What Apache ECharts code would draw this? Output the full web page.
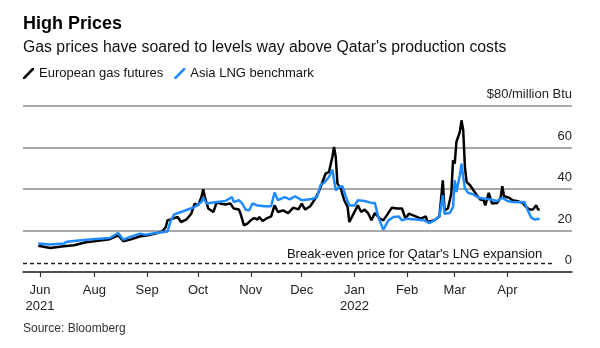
<!DOCTYPE html>
<html>
<head>
<meta charset="utf-8">
<script src="https://cdn.jsdelivr.net/npm/echarts@6/dist/echarts.min.js"></script>
<style>
html,body{margin:0;padding:0;background:#fff;}
#chart{width:600px;height:348px;}
</style>
</head>
<body>
<div id="chart"></div>
<script>
// ---- Data ($/million Btu) ----
const euroDates = ['2021-06-29','2021-07-06','2021-07-14','2021-07-20','2021-07-27','2021-08-02','2021-08-10','2021-08-15','2021-08-18','2021-08-22','2021-08-28','2021-08-31','2021-09-06','2021-09-10','2021-09-12','2021-09-13','2021-09-16','2021-09-19','2021-09-21','2021-09-24','2021-09-27','2021-09-29','2021-10-01','2021-10-03','2021-10-04','2021-10-05','2021-10-07','2021-10-10','2021-10-12','2021-10-14','2021-10-17','2021-10-20','2021-10-22','2021-10-25','2021-10-26','2021-10-28','2021-10-30','2021-11-01','2021-11-03','2021-11-05','2021-11-06','2021-11-08','2021-11-10','2021-11-13','2021-11-15','2021-11-17','2021-11-20','2021-11-23','2021-11-26','2021-11-29','2021-12-01','2021-12-03','2021-12-06','2021-12-09','2021-12-11','2021-12-13','2021-12-15','2021-12-17','2021-12-19','2021-12-20','2021-12-21','2021-12-22','2021-12-24','2021-12-26','2021-12-28','2021-12-29','2021-12-31','2022-01-03','2022-01-05','2022-01-07','2022-01-09','2022-01-11','2022-01-13','2022-01-16','2022-01-18','2022-01-20','2022-01-23','2022-01-26','2022-01-29','2022-01-31','2022-02-02','2022-02-06','2022-02-09','2022-02-12','2022-02-13','2022-02-17','2022-02-20','2022-02-22','2022-02-23','2022-02-25','2022-02-27','2022-02-28','2022-03-01','2022-03-02','2022-03-04','2022-03-05','2022-03-06','2022-03-07','2022-03-08','2022-03-10','2022-03-12','2022-03-14','2022-03-16','2022-03-18','2022-03-19','2022-03-21','2022-03-23','2022-03-26','2022-03-28','2022-03-29','2022-03-30','2022-04-02','2022-04-04','2022-04-07','2022-04-10','2022-04-12','2022-04-14','2022-04-16','2022-04-18','2022-04-19','2022-04-20'];
const euroValues = [12.7,11.6,12.4,12.9,14.3,14.9,15.8,17.7,14.8,15.6,17.2,17.5,18.5,19.6,21.7,24.9,25.7,26.5,24.1,25.2,28.1,33.0,32.1,36.1,39.9,36.1,30.6,28.9,33.7,33.0,32.5,33.0,30.6,30.1,28.1,22.5,23.3,24.9,26.0,25.3,26.5,24.6,25.7,26.8,32.1,28.9,29.7,28.4,31.0,30.2,33.0,30.1,31.7,35.4,38.6,42.9,47.4,48.2,55.4,60.2,55.4,42.6,40.2,34.6,31.3,24.1,27.3,32.1,28.9,30.1,28.4,24.9,28.4,25.7,24.9,27.3,31.0,30.6,30.6,25.7,28.1,26.8,25.7,26.8,24.1,24.9,26.8,44.2,29.7,30.6,37.8,53.8,52.2,62.7,67.5,73.1,68.3,50.6,43.4,41.8,39.4,37.0,34.9,34.6,32.1,38.1,33.0,33.3,35.8,41.3,36.5,35.8,34.6,34.1,33.3,31.3,30.1,30.1,32.1,30.1,30.1];

const asiaDates = ['2021-06-29','2021-07-06','2021-07-14','2021-07-16','2021-07-24','2021-08-02','2021-08-10','2021-08-15','2021-08-18','2021-08-22','2021-08-28','2021-08-31','2021-09-06','2021-09-13','2021-09-15','2021-09-17','2021-09-21','2021-09-25','2021-09-29','2021-10-03','2021-10-04','2021-10-06','2021-10-11','2021-10-17','2021-10-21','2021-10-22','2021-10-25','2021-10-27','2021-10-29','2021-10-31','2021-11-02','2021-11-05','2021-11-09','2021-11-13','2021-11-15','2021-11-17','2021-11-21','2021-11-24','2021-11-27','2021-12-01','2021-12-07','2021-12-10','2021-12-12','2021-12-14','2021-12-17','2021-12-19','2021-12-21','2021-12-23','2021-12-25','2021-12-27','2021-12-29','2022-01-01','2022-01-03','2022-01-07','2022-01-11','2022-01-13','2022-01-15','2022-01-18','2022-01-21','2022-01-24','2022-01-27','2022-01-29','2022-02-01','2022-02-06','2022-02-11','2022-02-14','2022-02-17','2022-02-20','2022-02-22','2022-02-23','2022-02-26','2022-02-28','2022-03-01','2022-03-02','2022-03-04','2022-03-05','2022-03-06','2022-03-07','2022-03-09','2022-03-12','2022-03-15','2022-03-18','2022-03-22','2022-03-26','2022-03-29','2022-04-01','2022-04-04','2022-04-08','2022-04-11','2022-04-13','2022-04-15','2022-04-17','2022-04-20'];
const asiaValues = [13.7,13.2,13.7,14.6,15.3,15.9,16.4,18.8,15.6,16.9,18.5,18.0,18.8,19.5,24.9,27.8,28.9,30.1,31.3,33.7,35.8,33.0,33.6,34.2,36.1,33.7,34.6,33.0,30.0,29.7,33.0,32.0,31.7,31.7,38.3,34.6,36.1,35.0,36.5,34.6,35.2,36.1,41.8,42.9,45.8,49.3,39.4,41.0,41.3,36.1,32.1,32.1,34.6,34.2,33.3,33.3,26.5,20.4,24.9,26.5,26.8,24.9,25.7,25.3,24.9,23.6,24.9,26.8,37.0,28.1,28.4,31.3,44.2,38.6,46.6,52.2,45.8,40.2,38.1,37.4,35.8,35.4,34.9,34.2,35.8,34.2,33.7,33.6,33.7,29.7,26.2,25.3,25.7];

const seriesNames = ['European gas futures', 'Asia LNG benchmark'];
const breakEven = 4.3;
const breakEvenSpan = ['2021-06-20', '2022-04-28'];
const breakEvenLabel = "Break-even price for Qatar's LNG expansion";

const xRange = ['2021-06-20', '2022-05-09'];
const tickDates = ['2021-06-30','2021-08-01','2021-09-01','2021-10-01','2021-11-01','2021-12-01','2022-01-01','2022-02-01','2022-03-01','2022-04-01'];
const tickLabels = ['Jun\n2021','Aug','Sep','Oct','Nov','Dec','Jan\n2022','Feb','Mar','Apr'];

const yTicks = [0, 20, 40, 60, 80];
const yTopLabel = '$80/million Btu';

const titleText = 'High Prices';
const subtitleText = "Gas prices have soared to levels way above Qatar's production costs";
const sourceText = 'Source: Bloomberg';

// ---- Chart ----
const FONT = '"Liberation Sans", Arial, sans-serif';
const T = s => Date.parse(s + 'T00:00:00Z');
const tickTimes = tickDates.map(T);

const chart = echarts.init(document.getElementById('chart'), null, {renderer: 'canvas'});
const slash = 'path://M0,10 L1.8,10 L10,1.6 L10,0 L8.2,0 L0,8.4 Z';

chart.setOption({
  animation: false,
  textStyle: {fontFamily: FONT},
  title: [
    {text: titleText, left: 23, top: 14, padding: 0, textStyle: {fontFamily: FONT, fontSize: 18, fontWeight: 'bold', color: '#000', lineHeight: 20}},
    {text: subtitleText, left: 23, top: 39, padding: 0, textStyle: {fontFamily: FONT, fontSize: 15.8, fontWeight: 'normal', color: '#111', lineHeight: 18}},
    {text: sourceText, left: 23, top: 322, padding: 0, textStyle: {fontFamily: FONT, fontSize: 12, fontWeight: 'normal', color: '#333', lineHeight: 14}}
  ],
  legend: {
    left: 23, top: 67, padding: 0,
    itemWidth: 11, itemHeight: 11, itemGap: 11,
    icon: slash,
    data: seriesNames,
    itemStyle: {borderWidth: 0},
    textStyle: {fontFamily: FONT, fontSize: 13, color: '#111'}
  },
  grid: {left: 23, right: 28, top: 106, bottom: 76, containLabel: false},
  xAxis: {
    type: 'value',
    min: T(xRange[0]), max: T(xRange[1]),
    axisLine: {show: true, onZero: false, lineStyle: {color: '#333', width: 1.5}},
    axisTick: {show: true, customValues: tickTimes, length: 5, lineStyle: {color: '#333', width: 1.2}},
    axisLabel: {
      customValues: tickTimes,
      margin: 10,
      fontFamily: FONT, fontSize: 13, color: '#222', lineHeight: 16,
      formatter: function (v) {
        let best = 0, bd = Infinity;
        tickTimes.forEach((t, i) => { const d = Math.abs(t - v); if (d < bd) { bd = d; best = i; } });
        return tickLabels[best];
      }
    },
    splitLine: {show: false}
  },
  yAxis: {
    type: 'value',
    position: 'right',
    min: yTicks[0], max: yTicks[yTicks.length - 1], interval: yTicks[1] - yTicks[0],
    axisLine: {show: false},
    axisTick: {show: false},
    axisLabel: {
      inside: true, margin: 0,
      verticalAlign: 'bottom', lineHeight: 13,
      padding: [0, 0, 5, 0],
      fontFamily: FONT, fontSize: 13, color: '#222',
      formatter: v => v === yTicks[yTicks.length - 1] ? yTopLabel : String(v)
    },
    splitLine: {show: true, lineStyle: {color: '#8c8c8c', width: 1.5}}
  },
  series: [
    {
      name: seriesNames[0], type: 'line', showSymbol: false, symbol: 'none',
      data: euroDates.map((d, i) => [T(d), euroValues[i]]),
      lineStyle: {color: '#000', width: 2.5}, itemStyle: {color: '#000'},
      z: 3,
      markLine: {
        silent: true, symbol: ['none', 'none'],
        lineStyle: {type: [4, 3], color: '#222', width: 1.3},
        label: {show: true, position: 'insideEndTop', distance: [11, 2], formatter: breakEvenLabel,
                fontFamily: FONT, fontSize: 13, color: '#111'},
        data: [[{coord: [T(breakEvenSpan[0]), breakEven]}, {coord: [T(breakEvenSpan[1]), breakEven]}]]
      }
    },
    {
      name: seriesNames[1], type: 'line', showSymbol: false, symbol: 'none',
      data: asiaDates.map((d, i) => [T(d), asiaValues[i]]),
      lineStyle: {color: '#1f8bff', width: 2.5}, itemStyle: {color: '#1f8bff'},
      z: 4
    }
  ]
});
</script>
</body>
</html>
